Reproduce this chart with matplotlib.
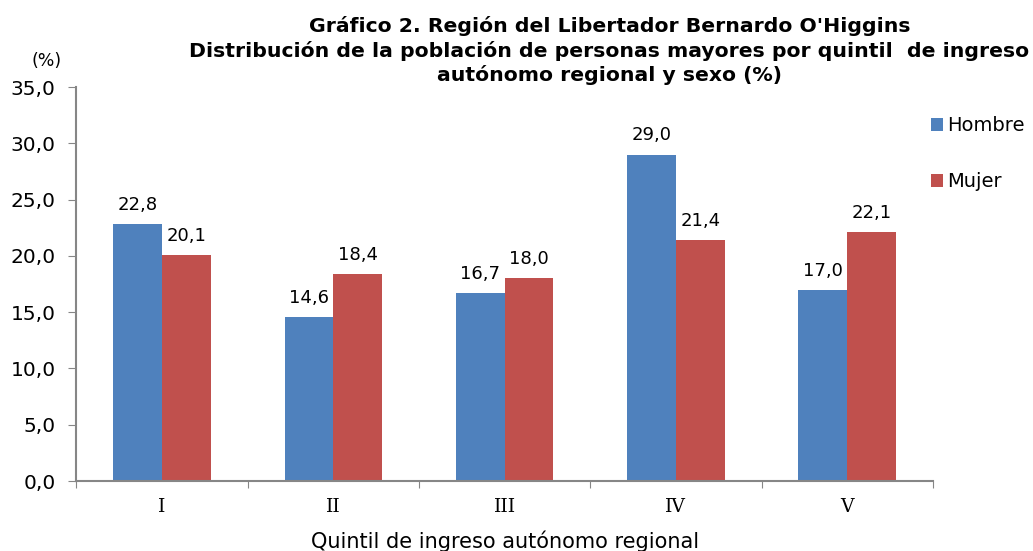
import numpy as np
import matplotlib.pyplot as plt

plt.rcParams['font.family'] = ['DejaVu Sans']

quintiles = ['I', 'II', 'III', 'IV', 'V']
hombre = [22.8, 14.6, 16.7, 29.0, 17.0]
mujer = [20.1, 18.4, 18.0, 21.4, 22.1]

blue = '#4f81bd'
red = '#c0504d'
grey = '#868686'

fig = plt.figure(figsize=(10.33, 5.51), dpi=100)
ax = fig.add_axes([0.0740, 0.127, 0.8290, 0.715])

x = np.arange(len(quintiles))
w = 0.285
b1 = ax.bar(x - w / 2, hombre, w, color=blue, label='Hombre')
b2 = ax.bar(x + w / 2, mujer, w, color=red, label='Mujer')

for bars, vals in ((b1, hombre), (b2, mujer)):
    for r, v in zip(bars, vals):
        ax.text(r.get_x() + r.get_width() / 2, v + 0.9, f'{v:.1f}'.replace('.', ','),
                ha='center', va='bottom', fontsize=13)

ax.set_xlim(-0.5, 4.5)
ax.set_ylim(0, 35)
ax.set_yticks(np.arange(0, 35.1, 5))
ax.set_yticklabels([f'{t:.1f}'.replace('.', ',') for t in np.arange(0, 35.1, 5)], fontsize=14.5)
ax.set_xticks(np.arange(-0.5, 4.6, 1))
ax.set_xticklabels([])
ax.set_xticks(x, minor=True)
ax.set_xticklabels(quintiles, minor=True, fontsize=13.5, family='DejaVu Serif')
ax.tick_params(axis='x', which='minor', length=0, pad=12)
ax.tick_params(axis='x', which='major', length=5, color=grey, direction='out')
ax.tick_params(axis='y', length=6, color=grey, direction='out', pad=9)
for s in ('top', 'right'):
    ax.spines[s].set_visible(False)
for s in ('left', 'bottom'):
    ax.spines[s].set_color(grey)
    ax.spines[s].set_linewidth(1.5)

ax.set_xlabel('Quintil de ingreso autónomo regional', fontsize=15, labelpad=11)
fig.text(0.045, 0.88, '(%)', fontsize=12.5, ha='center')
fig.text(0.59, 0.846,
         "Gráfico 2. Región del Libertador Bernardo O'Higgins\n"
         "Distribución de la población de personas mayores por quintil  de ingreso\n"
         "autónomo regional y sexo (%)",
         ha='center', va='bottom', fontsize=14.7, fontweight='bold', linespacing=1.27)

ax.legend(loc='upper left', bbox_to_anchor=(0.977, 0.97), frameon=False, fontsize=14,
          handlelength=0.65, handleheight=0.65, handletextpad=0.2, labelspacing=1.9)

fig.savefig('out.png')
